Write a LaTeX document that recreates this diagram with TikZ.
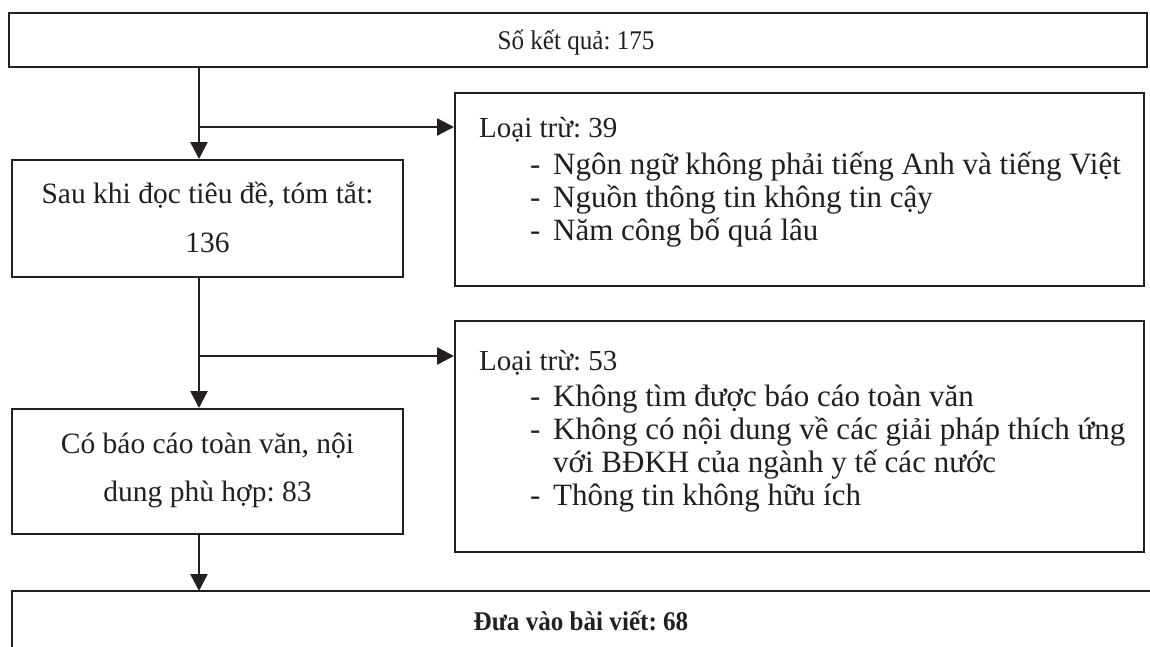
\documentclass[tikz,border=0pt]{standalone}
\usepackage{fontspec}
\setmainfont{Liberation Serif}
\newfontfamily\narrowserif[FakeStretch=0.93]{Liberation Serif}
\usetikzlibrary{arrows.meta}
\definecolor{ink}{HTML}{231F20}
\frenchspacing
\begin{document}
\begin{tikzpicture}[x=1pt,y=-1pt,
  box/.style={draw=ink,line width=2pt,inner sep=0pt,rectangle},
  txt/.style={inner sep=0pt,text=ink,font=\fontsize{31}{36}\selectfont},
  mid/.style={txt,font=\fontsize{29.5}{36}\selectfont},
  head/.style={txt,font=\fontsize{29}{36}\selectfont},
  narrow/.style={txt,font=\narrowserif\fontsize{27}{32}\selectfont},
  conn/.style={draw=ink,line width=2.4pt,-{Triangle[length=17pt,width=17pt]}}]
\useasboundingbox[fill=white] (0,0) rectangle (1150,646);
% boxes
\node[box,minimum width=1138pt,minimum height=54pt] (top) at (578,39.5) {};
\node[box,minimum width=391pt,minimum height=117pt] (b2) at (207.5,218.5) {};
\node[box,minimum width=689pt,minimum height=193pt] (b3) at (799.5,189.5) {};
\node[box,minimum width=391pt,minimum height=125pt] (b4) at (207.5,471.5) {};
\node[box,minimum width=689pt,minimum height=231pt] (b5) at (799.5,436.5) {};
\coordinate (bl) at (12,660);
\coordinate (btl) at (12,591);
\coordinate (btr) at (1160,591);
\draw[ink,line width=2pt] (bl) -- (btl) -- (btr);
% texts
\node[narrow,anchor=base] (t1) at (576,49) {Số kết quả: 175};
\node[mid,anchor=base] (t2a) at (207.5,203) {Sau khi đọc tiêu đề, tóm tắt:};
\node[mid,anchor=base] (t2b) at (207.5,252) {136};
\node[head,anchor=base west] (t3) at (479,137) {Loại trừ: 39};
\node[txt,anchor=base west] (t3d1) at (530,174) {-};
\node[txt,anchor=base west] (t3a) at (553,174) {Ngôn ngữ không phải tiếng Anh và tiếng Việt};
\node[txt,anchor=base west] (t3d2) at (530,207) {-};
\node[txt,anchor=base west] (t3b) at (553,207) {Nguồn thông tin không tin cậy};
\node[txt,anchor=base west] (t3d3) at (530,240) {-};
\node[txt,anchor=base west] (t3c) at (553,240) {Năm công bố quá lâu};
\node[mid,anchor=base] (t4a) at (207.5,453) {Có báo cáo toàn văn, nội};
\node[mid,anchor=base] (t4b) at (207.5,501) {dung phù hợp: 83};
\node[head,anchor=base west] (t5) at (479,370) {Loại trừ: 53};
\node[txt,anchor=base west] (t5d1) at (530,406) {-};
\node[txt,anchor=base west] (t5a) at (553,406) {Không tìm được báo cáo toàn văn};
\node[txt,anchor=base west] (t5d2) at (530,439) {-};
\node[txt,anchor=base west] (t5b) at (553,439) {Không có nội dung về các giải pháp thích ứng};
\node[txt,anchor=base west] (t5c) at (553,472) {với BĐKH của ngành y tế các nước};
\node[txt,anchor=base west] (t5d3) at (530,505) {-};
\node[txt,anchor=base west] (t5e) at (553,505) {Thông tin không hữu ích};
\node[narrow,anchor=base,font=\narrowserif\fontsize{27}{32}\selectfont\bfseries] (t6) at (581,630) {Đưa vào bài viết: 68};
% connectors
\coordinate (col) at (199,0);
\coordinate (j1) at (199,127);
\coordinate (j2) at (199,356);
\draw[conn] (top.south -| col) -- (b2.north -| col);
\draw[conn] (j1) -- (b3.west |- j1);
\draw[conn] (b2.south -| col) -- (b4.north -| col);
\draw[conn] (j2) -- (b5.west |- j2);
\draw[conn] (b4.south -| col) -- (btl -| col);
\end{tikzpicture}
\end{document}
